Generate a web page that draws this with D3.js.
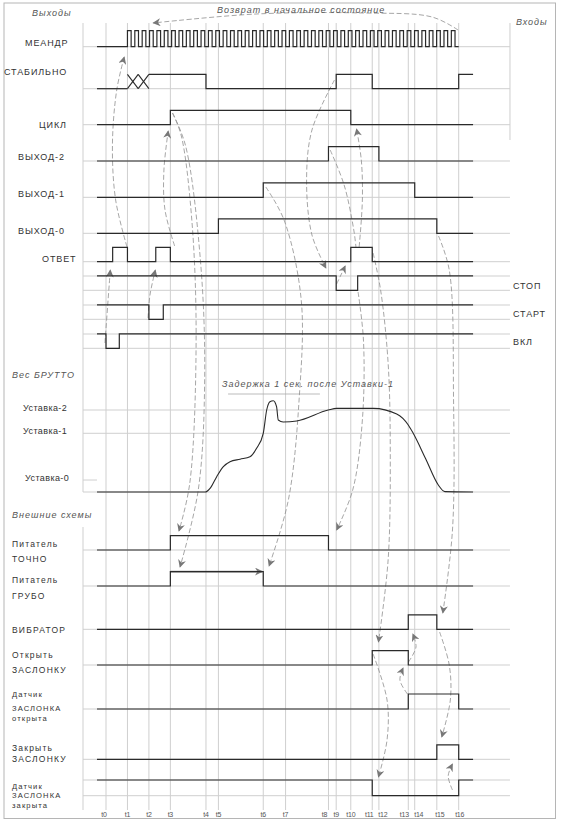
<!DOCTYPE html>
<html><head><meta charset="utf-8">
<script src="https://cdn.jsdelivr.net/npm/d3@7"></script>
<style>
body{margin:0;background:#fff}
text{font-family:"Liberation Sans",Arial,sans-serif}
</style>
</head><body>
<svg id="c" width="566" height="828"></svg>
<script>
// ================= DATA =================
const tickLabels = ["t0","t1","t2","t3","t4","t5","t6","t7","t8","t9","t10","t11","t12","t13","t14","t15","t16"];
const tickTimes  = [0,1,2,3,4.66,5.24,7.33,8.37,10.37,10.73,11.41,12.41,12.72,14.09,14.39,15.42,16.44];
const tickLabelShift = [-2,0,0,0,0,0,0,0,-4,0,0,-3,4,-4,4,3,1]; // labels nudged apart where ticks are close
const timeStart = -0.42, timeEnd = 17.11, gridStart = -1.072, gridEnd = 18.83;

// step signals: level toggles at listed times; init = starting level (0 low / 1 high)
const meanderPulses = 45;                          // clock periods between t1 and t16
const stabilnoCross = [1, 2];                      // undefined state (XX) between t1 and t2
const stabilnoEdges = [4.66, 10.73, 12.41, 16.44]; // starts high at t2
const cycleEdges    = [3, 11.41];
const out2Edges     = [10.37, 12.72];
const out1Edges     = [7.33, 14.39];
const out0Edges     = [5.24, 15.42];
const answerEdges   = [0.31, 1, 2.32, 3, 11.41, 12.41];
const stopEdges     = [10.73, 11.73];   // normally high
const startEdges    = [2.0, 2.67];      // normally high
const vklEdges      = [0.0, 0.62];      // normally high
const feedFineEdges   = [3, 10.37];
const feedCoarseEdges = [3, 7.33];
const vibratorEdges   = [14.09, 15.42];
const openEdges       = [12.41, 14.09];
const openSensorEdges = [14.09, 16.44];
const closeEdges      = [15.42, 16.44];
const closedSensorEdges = [12.41, 16.44]; // normally high

// gross weight curve
const weightT = [-0.42,4.62,4.85,5.16,5.47,5.78,6.25,6.71,7.02,7.33,7.49,7.64,7.8,7.95,8.03,8.26,8.89,10.36,10.75,12.46,13.55,14.09,14.32,14.9,15.49,15.8,17.11];
const weightV = [0,0,4.5,18.7,30.9,37,40,43,53.3,71.6,100,110,111.3,104,87.8,85.4,86.6,100,102,102,95.1,81.7,71.6,40.5,8.5,0.4,0];
const setpointNames  = ["Уставка-2","Уставка-1","Уставка-0"];
const setpointValues = [100, 71.6, 14.6];

// ================= LAYOUT =================
const svg = d3.select("#c");
const x = d3.scaleLinear().domain([0, 16.44]).range([106, 458.7]);
const w = d3.scaleLinear().domain([0, 100]).range([492, 410]);
const AMP = 14.4;
const INK = "#2a2a2a", GRID = "#cfcfcf", NOTE = "#8f8f8f";

// frame
svg.append("rect").attr("x",4).attr("y",3).attr("width",551.5).attr("height",815.5)
  .attr("fill","none").attr("stroke","#b5b5b5").attr("stroke-width",1);

// markers
const defs = svg.append("defs");
defs.append("marker").attr("id","ah").attr("viewBox","0 0 10 10").attr("refX",9).attr("refY",5)
  .attr("markerWidth",9).attr("markerHeight",8).attr("markerUnits","userSpaceOnUse").attr("orient","auto")
  .append("path").attr("d","M0,0 L10,5 L0,10 L3,5 z").attr("fill","#777");

const gGrid = svg.append("g"), gNote = svg.append("g"), gSig = svg.append("g"), gTxt = svg.append("g");

// vertical grid
gGrid.selectAll("line.v").data(tickTimes).join("line")
  .attr("x1",d=>x(d)).attr("x2",d=>x(d)).attr("y1",23).attr("y2",810)
  .attr("stroke",GRID).attr("stroke-width",1);
[[23,492],[527,810]].forEach(([a,b])=>gGrid.append("line").attr("x1",x(gridStart)).attr("x2",x(gridStart))
  .attr("y1",a).attr("y2",b).attr("stroke",GRID));
gGrid.append("line").attr("x1",x(gridEnd)).attr("x2",x(gridEnd)).attr("y1",23).attr("y2",140).attr("stroke",GRID);

// rows: low-level y (and high-level for inverted inputs)
const rows = {
  meander:46.7, stab:88.7, cycle:124.7, out2:161, out1:197.3, out0:233.3, answer:261.7,
  stop:290.3, start:319.3, vkl:348.3,
  fine:550, coarse:586, vibr:629.3, open:665, openS:709, close:759.3, closedS:795.7
};
const hGrid = Object.values(rows).concat([276,305,334,780, w(setpointValues[0]), w(setpointValues[1]), w(0)]);
gGrid.selectAll("line.h").data(hGrid).join("line")
  .attr("x1",x(gridStart)).attr("x2",x(gridEnd)).attr("y1",d=>d).attr("y2",d=>d)
  .attr("stroke",GRID).attr("stroke-width",1);
gGrid.append("line").attr("x1",x(gridStart)).attr("x2",x(timeStart)).attr("y1",w(setpointValues[2])).attr("y2",w(setpointValues[2])).attr("stroke",GRID);

// step path builder
function stepPts(init, edges, t0, t1){
  let lvl = init, pts=[[t0,lvl]];
  edges.forEach(e=>{ pts.push([e,lvl]); lvl = 1-lvl; pts.push([e,lvl]); });
  pts.push([t1,lvl]);
  return pts;
}
function drawStep(rowLow, amp, init, edges, t0=timeStart, t1=timeEnd, color=INK){
  const line = d3.line().x(d=>x(d[0])).y(d=>rowLow - d[1]*amp);
  gSig.append("path").attr("d", line(stepPts(init,edges,t0,t1)))
    .attr("fill","none").attr("stroke",color).attr("stroke-width",1.2);
}

// meander
{
  const p = (tickTimes[16]-tickTimes[1])/meanderPulses;
  const edges=[];
  for(let i=0;i<meanderPulses;i++){ edges.push(tickTimes[1]+i*p, tickTimes[1]+i*p+p/2); }
  drawStep(rows.meander, 16, 0, edges, timeStart, tickTimes[16]);
}
// stabilno
drawStep(rows.stab, AMP, 0, [], timeStart, stabilnoCross[0]);
{
  const a=stabilnoCross[0], b=stabilnoCross[1], m=(a+b)/2, lo=rows.stab, hi=rows.stab-AMP;
  [[a,lo,m,hi],[a,hi,m,lo],[m,lo,b,hi],[m,hi,b,lo]].forEach(s=>gSig.append("line")
    .attr("x1",x(s[0])).attr("y1",s[1]).attr("x2",x(s[2])).attr("y2",s[3]).attr("stroke",INK).attr("stroke-width",1.1));
  drawStep(rows.stab, AMP, 1, stabilnoEdges, b, timeEnd);
}
drawStep(rows.cycle, AMP, 0, cycleEdges);
drawStep(rows.out2, AMP, 0, out2Edges);
drawStep(rows.out1, AMP, 0, out1Edges);
drawStep(rows.out0, AMP, 0, out0Edges);
drawStep(rows.answer, AMP, 0, answerEdges);
drawStep(rows.stop, AMP, 1, stopEdges);
drawStep(rows.start, AMP, 1, startEdges);
drawStep(rows.vkl, AMP, 1, vklEdges);
drawStep(rows.fine, AMP, 0, feedFineEdges);
drawStep(rows.coarse, AMP, 0, feedCoarseEdges);
drawStep(rows.vibr, AMP, 0, vibratorEdges);
drawStep(rows.open, AMP, 0, openEdges);
drawStep(rows.openS, AMP+0.6, 0, openSensorEdges);
drawStep(rows.close, AMP, 0, closeEdges);
drawStep(rows.closedS, 15.7, 1, closedSensorEdges);

// weight curve
gSig.append("path").datum(weightT.map((t,i)=>[t,weightV[i]]))
  .attr("d", d3.line().x(d=>x(d[0])).y(d=>w(d[1])).curve(d3.curveMonotoneX))
  .attr("fill","none").attr("stroke",INK).attr("stroke-width",1.1);

// coarse feeder arrow (t3 -> t6)
gNote.append("line").attr("x1",x(tickTimes[3])).attr("x2",x(tickTimes[6])-1)
  .attr("y1",rows.coarse-AMP).attr("y2",rows.coarse-AMP)
  .attr("stroke","#8a8a8a").attr("stroke-width",1.8).attr("marker-end","url(#ah)");

// delay dimension line
gNote.append("line").attr("x1",x(5.69)).attr("x2",x(9.97)).attr("y1",394).attr("y2",394)
  .attr("stroke","#aaa").attr("stroke-width",0.8);

// causal dashed arrows: [time, y]
const notes = [
  {pts:[[16.41,30],[15.2,17],[12,13],[7,14],[2.2,23]], arrow:true},          // возврат
  {pts:[[-0.05,343],[0.08,305],[0.2,270]], arrow:true},                    // ВКЛ -> ОТВЕТ
  {pts:[[0.98,247],[0.45,200],[0.3,145],[0.5,90],[0.85,57]], arrow:true},  // ОТВЕТ -> МЕАНДР
  {pts:[[1.96,318],[2.05,295],[2.3,270]], arrow:true},                     // СТАРТ -> ОТВЕТ
  {pts:[[3.2,246],[2.75,210],[2.7,170],[2.9,131]], arrow:true},            // ОТВЕТ -> ЦИКЛ
  {pts:[[3.1,113],[3.5,135],[4.0,220],[4.2,341],[3.9,484],[3.4,531]], arrow:true}, // ЦИКЛ -> ТОЧНО
  {pts:[[3.1,113],[3.7,145],[4.4,260],[4.6,377],[4.3,490],[3.45,567]], arrow:true}, // ЦИКЛ -> ГРУБО
  {pts:[[7.45,187],[8.3,220],[9.1,300],[9.0,400],[8.5,500],[7.6,566]], arrow:true}, // ВЫХОД-1 -> ГРУБО
  {pts:[[10.65,80],[9.6,130],[9.35,180],[9.6,235],[10.25,268]], arrow:true}, // СТАБИЛЬНО -> СТОП
  {pts:[[10.75,284],[10.95,275],[11.15,266]], arrow:true},                 // СТОП -> ОТВЕТ
  {pts:[[10.45,150],[11.1,185],[11.55,230],[11.65,247]], arrow:false},     // ВЫХОД-2
  {pts:[[11.8,247],[11.95,200],[11.9,160],[11.68,129]], arrow:true},       // ОТВЕТ -> ЦИКЛ
  {pts:[[12.45,253],[12.8,290],[13.15,363],[13.25,450],[13.15,560],[12.7,642]], arrow:true}, // -> Открыть
  {pts:[[11.75,292],[12.0,340],[11.95,420],[11.5,490],[10.75,530]], arrow:true}, // -> ТОЧНО off
  {pts:[[15.5,236],[16.0,270],[16.2,400],[16.15,530],[15.7,613]], arrow:true},   // ВЫХОД-0 -> ВИБРАТОР
  {pts:[[15.55,632],[16.0,665],[16.05,700],[15.65,737]], arrow:true},      // ВИБРАТОР -> Закрыть
  {pts:[[16.15,790],[15.95,776],[16.15,764]], arrow:true},                 // Датчик закр -> Закрыть
  {pts:[[14.05,694],[13.7,680],[13.85,668]], arrow:true},                  // Датчик откр -> Открыть
  {pts:[[14.1,662],[14.45,647],[14.3,634]], arrow:true},                   // -> ВИБРАТОР
  {pts:[[12.45,654],[13.1,700],[13.1,740],[12.7,777]], arrow:true}         // Открыть -> Датчик закр
];
const nLine = d3.line().x(d=>x(d[0])).y(d=>d[1]).curve(d3.curveCatmullRom.alpha(0.5));
notes.forEach(n=>{
  const p = gNote.append("path").attr("d", nLine(n.pts)).attr("fill","none")
    .attr("stroke",NOTE).attr("stroke-width",0.8).attr("stroke-dasharray","5,2.5");
  if(n.arrow) p.attr("marker-end","url(#ah)");
});

// ================= TEXT =================
function txt(s, xx, yy, o={}){
  gTxt.append("text").attr("x",xx).attr("y",yy).text(s)
    .attr("font-size", o.size||9).attr("fill", o.fill||"#333")
    .attr("letter-spacing", o.ls!=null?o.ls:0.9)
    .attr("font-style", o.it?"italic":"normal")
    .attr("text-anchor", o.anchor||"start");
}
const IT = {it:true, fill:"#555", ls:1};
txt("Выходы", 32, 16, IT);
txt("Возврат в начальное состояние", 217, 13, IT);
txt("Входы", 516, 25, IT);
txt("МЕАНДР", 25, 46);
txt("СТАБИЛЬНО", 4, 74.5);
txt("ЦИКЛ", 39, 127.5);
txt("ВЫХОД-2", 18, 160);
txt("ВЫХОД-1", 18, 197);
txt("ВЫХОД-0", 18, 233.5);
txt("ОТВЕТ", 42, 261.5);
txt("СТОП", 513, 288.5);
txt("СТАРТ", 513, 317);
txt("ВКЛ", 513, 345);
txt("Вес БРУТТО", 12, 378, IT);
setpointNames.forEach((s,i)=>txt(s, i==2?25:23, w(setpointValues[i])+(i==2?1:0.5), {ls:0.4}));
txt("Задержка 1 сек. после Уставки-1", 222, 387, IT);
txt("Внешние схемы", 12, 518, IT);
const L2 = {size:8.5, ls:1.2};
const L3 = {size:7.6, ls:1.1};
txt("Питатель", 12, 546.5, L2); txt("ТОЧНО", 12, 561.5, L2);
txt("Питатель", 12, 583, L2);   txt("ГРУБО", 12, 598.5, L2);
txt("ВИБРАТОР", 12, 632.5, L2);
txt("Открыть", 12, 658, L2);    txt("ЗАСЛОНКУ", 12, 672.5, L2);
txt("Датчик", 12, 697, L3);   txt("ЗАСЛОНКА", 12, 711, L3); txt("открыта", 12, 720.5, L3);
txt("Закрыть", 12, 750.5, L2);  txt("ЗАСЛОНКУ", 12, 762, L2);
txt("Датчик", 12, 788.5, L3);   txt("ЗАСЛОНКА", 12, 798, L3); txt("закрыта", 12, 807.5, L3);
tickLabels.forEach((s,i)=>txt(s, x(tickTimes[i])+tickLabelShift[i], 817, {size:7, ls:-0.2, anchor:"middle", fill:"#555"}));
</script>
</body></html>
